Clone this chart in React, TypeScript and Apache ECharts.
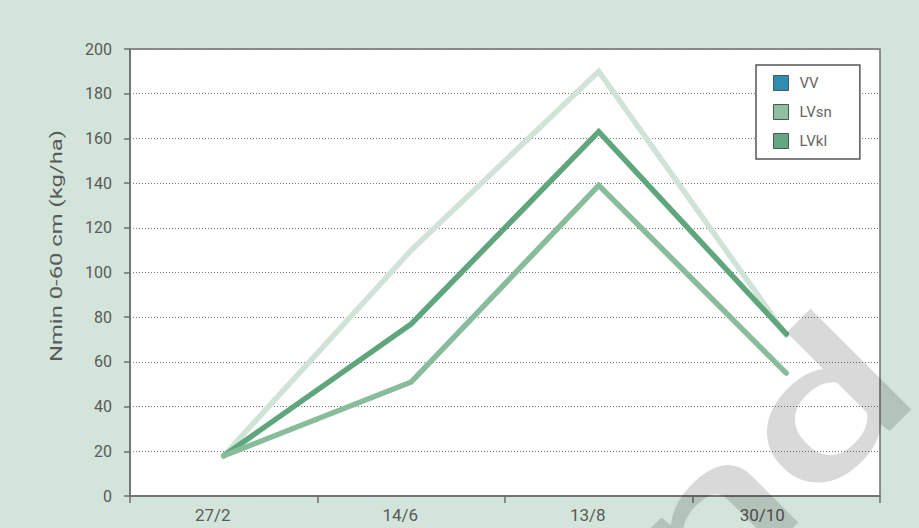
import React, { useEffect, useRef } from "react";
import * as echarts from "echarts";

const categories = ["27/2", "14/6", "13/8", "30/10"];
const seriesNames = ["VV", "LVsn", "LVkl"];
const vvValues = [18, 110, 190, 72];
const lvsnValues = [18, 51, 139, 55];
const lvklValues = [18, 77, 163, 72.5];
const yTitle = "Nmin 0-60 cm (kg/ha)";
const watermark = "nd";

export default function App() {
  const ref = useRef<HTMLDivElement>(null);
  useEffect(() => {
    document.body.style.margin = "0";
    const chart = echarts.init(ref.current!, null, { renderer: "svg" });
    const font = "Roboto";
    const axisColor = "#6e6e6e";
    const textColor = "#595959";
    chart.setOption({
      animation: false,
      backgroundColor: "#d3e5da",
      grid: {
        left: 130,
        right: 39,
        top: 49,
        bottom: 32,
        show: true,
        backgroundColor: "#ffffff",
        borderColor: axisColor,
        borderWidth: 1.5,
      },
      legend: {
        orient: "vertical",
        left: 756,
        top: 65,
        padding: [10, 28, 10, 17],
        itemGap: 13,
        itemWidth: 15,
        itemHeight: 15,
        icon: "rect",
        backgroundColor: "#ffffff",
        borderColor: "#555555",
        borderWidth: 1.5,
        textStyle: { color: "#666666", fontSize: 15, fontFamily: font, padding: [0, 0, 0, 6] },
        data: [
          { name: seriesNames[0], itemStyle: { color: "#2f8db3", borderColor: "#555", borderWidth: 1 } },
          { name: seriesNames[1], itemStyle: { color: "#8dc1a1", borderColor: "#555", borderWidth: 1 } },
          { name: seriesNames[2], itemStyle: { color: "#62a880", borderColor: "#555", borderWidth: 1 } },
        ],
      },
      xAxis: {
        type: "category",
        boundaryGap: true,
        data: categories.map((c, i) =>
          i === categories.length - 1
            ? { value: c, textStyle: { padding: [0, 48, 0, 0] } }
            : c
        ),
        axisLine: { show: true, lineStyle: { color: axisColor, width: 1.5 } },
        axisTick: { show: true, length: 7, alignWithLabel: false, lineStyle: { color: axisColor, width: 1.5 } },
        axisLabel: { color: textColor, fontSize: 17, fontFamily: font, margin: 10, padding: [0, 22, 0, 0] },
        splitLine: { show: false },
      },
      yAxis: {
        type: "value",
        min: 0,
        max: 200,
        interval: 20,
        axisLine: { show: true, lineStyle: { color: axisColor, width: 1.5 } },
        axisTick: { show: true, length: 6, lineStyle: { color: axisColor, width: 1.5 } },
        axisLabel: { color: textColor, fontSize: 16, fontFamily: font, margin: 18 },
        splitLine: { show: true, lineStyle: { color: "#777777", type: [1, 2], width: 1 } },
      },
      graphic: [
        {
          type: "text",
          x: 56,
          y: 246,
          rotation: Math.PI / 2,
          scaleX: 1.4,
          style: {
            text: yTitle,
            fill: textColor,
            fontSize: 17,
            fontFamily: font,
            textAlign: "center",
            textVerticalAlign: "middle",
          },
        },
        {
          type: "text",
          x: 945,
          y: 418,
          rotation: Math.PI / 4,
          scaleX: 1.5,
          z: 100,
          silent: true,
          style: {
            text: watermark,
            fill: "rgba(0,0,0,0.15)",
            fontSize: 190,
            fontWeight: 500,
            fontFamily: font,
            textAlign: "right",
            textVerticalAlign: "bottom",
          },
        },
      ],
      series: [
        {
          name: seriesNames[0],
          type: "line",
          data: vvValues,
          symbol: "none",
          z: 2,
          lineStyle: { color: "#cfe3d6", width: 5.5, cap: "round", join: "miter" },
          itemStyle: { color: "#cfe3d6" },
        },
        {
          name: seriesNames[2],
          type: "line",
          data: lvklValues,
          symbol: "none",
          z: 3,
          lineStyle: { color: "#5fa67c", width: 5.5, cap: "round", join: "miter" },
          itemStyle: { color: "#5fa67c" },
        },
        {
          name: seriesNames[1],
          type: "line",
          data: lvsnValues,
          symbol: "none",
          z: 4,
          lineStyle: { color: "#88bc9b", width: 5.5, cap: "round", join: "miter" },
          itemStyle: { color: "#88bc9b" },
        },
      ],
    });
    return () => chart.dispose();
  }, []);
  return <div ref={ref} style={{ width: 919, height: 528 }} />;
}
